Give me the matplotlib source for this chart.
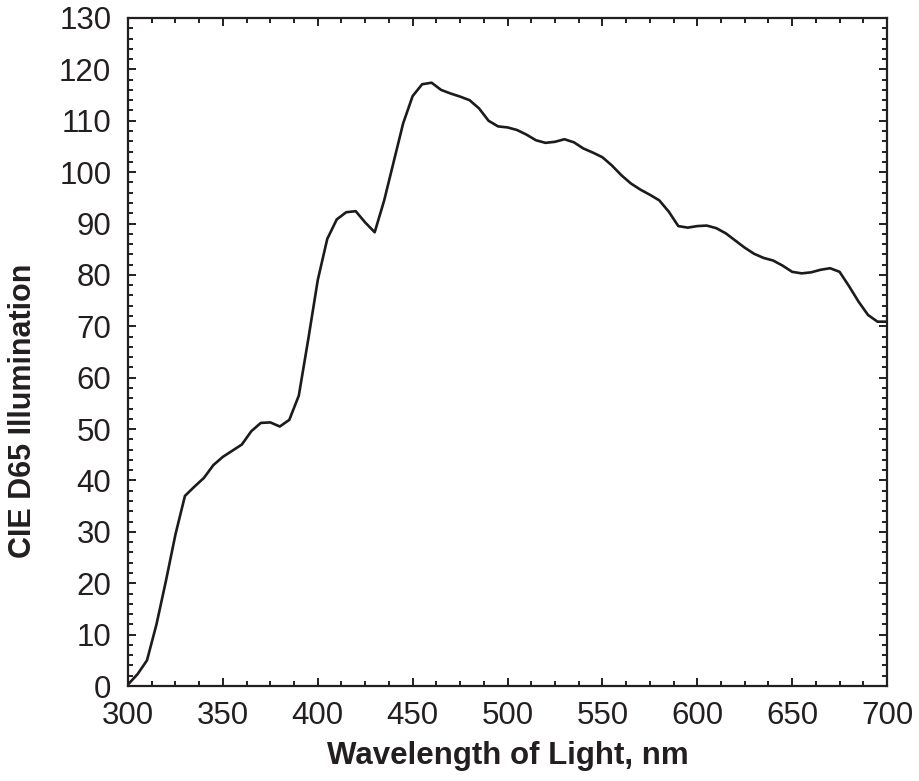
import numpy as np
import matplotlib
matplotlib.use("Agg")
import matplotlib.pyplot as plt
from matplotlib.ticker import MultipleLocator

wavelength = list(range(300, 705, 5))
illumination = [
    0.3, 2.3, 5.0, 12.0, 20.5, 29.5, 37.0, 38.8, 40.5, 43.0,
    44.6, 45.8, 47.0, 49.6, 51.2, 51.3, 50.5, 51.8, 56.5, 67.5,
    79.0, 87.0, 90.8, 92.2, 92.4, 90.2, 88.3, 94.5, 102.0, 109.5,
    114.8, 117.1, 117.4, 116.0, 115.3, 114.7, 114.0, 112.4, 110.0, 108.9,
    108.7, 108.2, 107.3, 106.2, 105.7, 105.9, 106.4, 105.8, 104.6, 103.8,
    102.9, 101.3, 99.4, 97.8, 96.6, 95.6, 94.5, 92.3, 89.5, 89.2,
    89.5, 89.6, 89.1, 88.1, 86.7, 85.3, 84.1, 83.3, 82.8, 81.8,
    80.6, 80.3, 80.5, 81.0, 81.3, 80.6, 77.8, 74.8, 72.2, 70.9,
    70.9,
]

plt.rcParams['font.family'] = ['Liberation Sans', 'DejaVu Sans']

fig = plt.figure(figsize=(9.19, 7.81), dpi=100)
ax = fig.add_axes([0.1393, 0.1216, 0.9652 - 0.1393, 0.977 - 0.1216])

ax.plot(wavelength, illumination, color='#1c1a1b', lw=1.9,
        solid_joinstyle='round', solid_capstyle='round')

ax.set_xlim(300, 700)
ax.set_ylim(0, 130)
ax.xaxis.set_major_locator(MultipleLocator(50))
ax.xaxis.set_minor_locator(MultipleLocator(12.5))
ax.yaxis.set_major_locator(MultipleLocator(10))
ax.yaxis.set_minor_locator(MultipleLocator(2))

ax.tick_params(which='both', direction='in', top=True, right=True, width=1.4,
               color='#231f20', labelcolor='#231f20')
ax.tick_params(which='major', length=6, labelsize=22.5)
ax.tick_params(axis='x', which='major', pad=11)
ax.tick_params(axis='y', which='major', pad=12)
ax.tick_params(which='minor', length=3.3)
for s in ax.spines.values():
    s.set_linewidth(1.6)
    s.set_color('#231f20')

ax.set_xlabel('Wavelength of Light, nm', fontsize=22.5, fontweight='bold',
              labelpad=7, color='#231f20')
ax.set_ylabel('CIE D65 Illumination', fontsize=22, fontweight='bold',
              color='#231f20')
ax.yaxis.set_label_coords(-0.118, 0.412)

fig.savefig('out.png', dpi=100)
